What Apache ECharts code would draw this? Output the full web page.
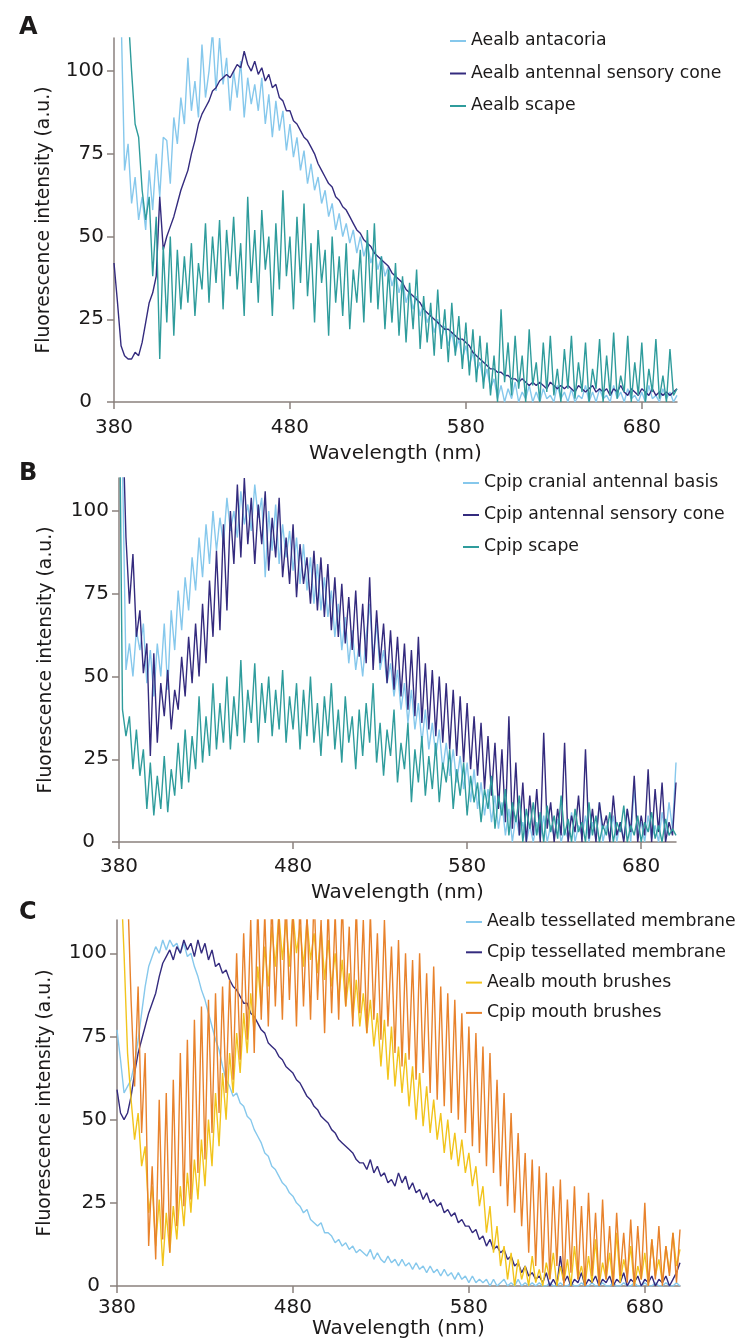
<!DOCTYPE html>
<html>
<head>
<meta charset="utf-8">
<script src="https://cdn.jsdelivr.net/npm/echarts@6/dist/echarts.min.js"></script>
<style>
html, body { margin: 0; padding: 0; background: #fff; }
#chart { width: 738px; height: 1344px; }
</style>
</head>
<body>
<div id="chart"></div>
<script>
// spectra are sampled every 2 nm from 380 to 700 nm
const wlStart = 380;
const wlStep = 2;
const xTickLabels = [380, 480, 580, 680];
const yTickLabels = [0, 25, 50, 75, 100];

// panel A
const aealbAntacoria = [
150,135,118,70,78,60,68,55,62,52,
70,58,75,62,80,79,66,86,78,92,
84,104,88,97,86,108,92,100,112,94,
110,96,104,88,100,92,103,86,98,90,
96,88,98,84,93,80,91,82,88,76,
84,74,80,70,76,66,72,64,68,60,
64,56,60,52,57,50,54,48,52,45,
50,44,48,42,46,40,44,38,41,35,
39,33,37,30,34,28,32,26,30,24,
27,21,25,19,23,17,21,15,19,13,
17,11,15,9,12,6,10,4,7,1,
5,0,4,1,6,0,3,1,5,0,
3,0,4,1,2,0,5,1,3,0,
4,0,2,1,5,0,3,0,4,1,
2,0,5,1,3,0,4,1,2,0,
3,0,5,1,2,0,4,1,3,0,
2];
const aealbCone = [
42,30,17,14,13,13,15,14,18,24,
30,33,38,62,46,50,53,56,60,64,
67,70,75,79,84,87,89,91,94,95,
97,98,99,98,100,102,101,106,102,100,
103,99,101,97,99,95,96,92,91,88,
88,85,84,82,80,79,77,75,72,70,
68,66,65,62,61,59,58,56,54,52,
51,49,48,47,45,44,43,42,41,39,
38,37,36,34,33,32,31,30,28,27,
26,25,24,23,22,22,21,20,19,19,
18,17,15,14,13,12,11,10,10,9,
9,8,8,7,7,6,7,6,5,6,
5,6,5,4,6,5,4,5,4,5,
4,3,5,4,3,4,5,3,4,3,
4,2,4,3,5,3,2,4,3,2,
4,3,2,4,2,3,2,3,2,3,
4];
const aealbScape = [
160,150,140,130,118,100,84,80,64,55,
62,38,56,13,47,24,50,20,46,28,
44,30,48,26,42,34,54,30,50,36,
55,28,52,38,56,34,48,26,62,36,
52,30,58,40,50,26,54,34,64,38,
50,28,56,36,60,32,48,24,52,36,
46,20,50,30,44,26,48,22,40,30,
46,24,52,30,54,28,44,22,40,24,
42,20,38,18,36,22,40,16,32,18,
30,14,34,16,28,12,30,14,26,10,
24,8,22,6,20,4,18,2,14,0,
28,6,18,2,20,4,14,0,22,5,
12,0,18,3,20,2,10,0,16,4,
20,1,12,3,18,0,10,4,19,0,
14,2,21,1,8,3,20,0,12,2,
18,0,10,3,19,1,8,0,16,2,
4];

// panel B
const cpipBasis = [
140,115,52,60,50,64,58,66,48,58,
44,60,50,66,46,70,58,76,64,80,
70,86,76,92,80,96,84,100,88,98,
90,104,94,100,92,106,96,102,94,108,
98,104,80,100,88,102,84,96,86,94,
82,92,78,90,76,86,72,84,70,80,
68,76,62,72,58,68,54,64,52,60,
50,62,72,56,66,52,58,48,54,44,
52,40,48,36,46,34,42,30,40,28,
36,26,34,22,30,20,28,18,26,16,
24,12,22,10,18,8,16,6,14,4,
12,2,10,0,8,2,6,0,5,0,
6,1,8,0,5,2,7,0,4,1,
9,0,5,2,8,0,6,1,12,0,
5,2,8,0,6,1,10,0,17,2,
6,0,8,1,5,0,9,2,12,4,
24];
const cpipCone = [
160,130,92,72,87,62,70,51,60,26,
57,30,48,38,52,34,46,40,56,44,
62,48,66,50,72,54,79,62,88,64,
96,70,100,84,108,86,110,90,104,84,
102,90,106,82,98,86,104,80,92,78,
96,74,90,78,86,72,88,70,86,68,
84,64,80,62,78,60,74,58,76,56,
72,54,80,52,70,54,66,48,64,46,
62,44,60,40,58,38,62,36,54,34,
52,32,50,30,48,28,46,26,44,24,
42,22,38,20,36,16,32,14,30,10,
28,6,38,4,24,2,18,0,14,2,
16,0,33,4,12,0,10,2,30,0,
8,3,14,0,28,1,10,0,12,4,
8,0,14,2,6,0,10,3,20,0,
8,2,22,0,16,3,18,0,6,2,
18];
const cpipScape = [
150,40,32,38,22,34,20,28,10,24,
8,20,10,26,9,22,14,30,16,34,
18,32,22,44,24,38,26,48,28,42,
30,50,28,44,32,55,30,46,36,54,
30,48,36,50,32,46,34,52,30,44,
34,48,28,46,32,50,30,42,26,44,
32,48,28,40,24,44,30,38,22,40,
26,42,30,48,24,36,20,34,26,40,
18,30,22,36,12,28,18,32,14,26,
16,30,12,24,18,28,10,22,14,24,
8,20,12,18,6,16,10,20,4,14,
8,16,2,12,6,14,0,10,4,12,
2,9,0,11,3,8,1,14,2,7,
0,10,3,6,0,12,2,8,0,5,
2,9,0,6,3,11,0,5,2,8,
0,6,3,9,1,5,0,7,2,4,
2];

// panel C
const aealbTessellated = [
77,68,58,60,62,67,74,82,90,96,
99,102,100,104,101,104,102,103,100,103,
99,100,96,93,89,86,82,78,74,71,
66,62,60,57,58,55,54,51,50,47,
45,43,40,39,36,35,33,31,30,28,
27,25,24,22,23,20,19,18,19,16,
16,15,13,14,12,13,11,12,10,11,
10,9,11,8,10,8,7,9,7,8,
6,8,6,7,5,7,5,6,4,6,
4,5,3,5,3,4,2,4,2,3,
1,3,1,2,1,2,0,2,0,1,
2,0,1,0,2,0,1,0,1,0,
1,0,0,1,0,0,1,0,0,1,
0,0,1,0,0,1,0,0,1,0,
0,1,0,0,1,0,0,1,0,0,
1,0,0,1,0,0,1,0,0,1,
0];
const cpipTessellated = [
59,52,50,52,57,64,70,74,78,82,
85,88,93,97,99,101,98,102,100,104,
101,103,99,104,100,103,98,101,96,97,
94,95,92,90,89,87,85,85,82,81,
79,77,76,73,72,71,69,68,66,65,
64,62,61,59,57,56,54,53,51,50,
49,47,46,44,43,42,41,40,38,37,
37,35,38,34,36,33,34,31,32,30,
34,31,33,29,31,28,29,26,28,25,
26,24,25,22,23,21,22,19,20,18,
18,16,17,14,15,12,14,11,12,10,
11,8,9,6,7,4,6,3,4,2,
3,1,4,0,2,0,9,1,3,0,
2,1,4,0,2,1,3,0,2,1,
3,0,2,1,4,0,2,1,3,0,
2,1,3,0,2,1,3,0,2,4,
7];
const aealbBrushes = [
140,125,100,70,56,44,52,36,42,22,
30,12,26,6,22,10,24,14,30,18,
34,22,38,26,44,30,50,36,58,42,
64,50,70,58,76,64,82,70,88,76,
96,84,102,90,108,96,112,98,110,96,
112,100,108,96,110,98,106,94,108,92,
104,90,100,86,98,84,94,80,92,78,
88,76,86,72,82,66,80,62,78,60,
72,58,70,54,66,50,64,48,60,46,
56,44,52,40,50,38,46,36,44,34,
40,30,36,24,30,16,24,10,18,6,
12,2,10,0,8,2,6,0,9,1,
5,0,7,2,10,0,6,1,8,0,
12,2,6,0,9,1,14,0,7,2,
10,0,16,1,8,3,12,0,6,2,
10,0,14,3,8,1,12,4,16,6,
11];
const cpipBrushes = [
150,160,130,120,86,60,90,46,70,12,
36,8,56,14,58,10,62,18,70,24,
74,26,80,34,84,38,86,46,88,52,
90,58,92,62,100,68,106,74,110,70,
114,80,112,78,116,84,112,80,118,86,
114,78,116,84,112,80,118,86,110,76,
114,82,112,80,116,84,108,78,114,82,
110,76,112,80,106,74,110,78,102,70,
104,66,100,68,98,62,100,64,94,58,
96,56,90,54,88,52,86,50,82,46,
78,42,76,40,72,36,70,34,62,30,
58,24,52,22,46,18,40,10,38,6,
36,4,34,2,30,6,32,0,26,4,
30,2,24,0,28,3,22,0,26,2,
18,0,22,3,16,1,20,0,18,2,
25,0,14,2,18,0,12,3,16,1,
17];

const lightBlue = '#86c8ec';
const navy = '#342b7e';
const teal = '#2f9c9c';
const yellow = '#f2c41c';
const orange = '#e8822c';

const font = 'DejaVu Sans';
const textColor = '#1c1a1a';
const axisColor = '#8a817e';

const panels = [
    {
        letter: 'A', letterTop: 11,
        grid: { left: 114, top: 38, width: 563, height: 364 },
        xLabelMargin: 16, xNameGap: 42, yNameGap: 60, zeroPad: 12,
        legend: { left: 450, top: 31, itemGap: 12.5 },
        lines: [
            { name: 'Aealb antacoria', data: aealbAntacoria, color: lightBlue },
            { name: 'Aealb antennal sensory cone', data: aealbCone, color: navy },
            { name: 'Aealb scape', data: aealbScape, color: teal }
        ]
    },
    {
        letter: 'B', letterTop: 457,
        grid: { left: 119, top: 478, width: 557, height: 364 },
        xLabelMargin: 15, xNameGap: 41, yNameGap: 63, zeroPad: 14,
        legend: { left: 463, top: 473, itemGap: 12 },
        lines: [
            { name: 'Cpip cranial antennal basis', data: cpipBasis, color: lightBlue },
            { name: 'Cpip antennal sensory cone', data: cpipCone, color: navy },
            { name: 'Cpip scape', data: cpipScape, color: teal }
        ]
    },
    {
        letter: 'C', letterTop: 896,
        grid: { left: 117, top: 920, width: 563, height: 366 },
        xLabelMargin: 12, xNameGap: 30, yNameGap: 62, zeroPad: 7,
        legend: { left: 466, top: 912, itemGap: 10.3 },
        lines: [
            { name: 'Aealb tessellated membrane', data: aealbTessellated, color: lightBlue },
            { name: 'Cpip tessellated membrane', data: cpipTessellated, color: navy },
            { name: 'Aealb mouth brushes', data: aealbBrushes, color: yellow },
            { name: 'Cpip mouth brushes', data: cpipBrushes, color: orange }
        ]
    }
];

function toPairs(values) {
    return values.map((v, i) => [wlStart + i * wlStep, v]);
}

const option = {
    backgroundColor: '#fff',
    animation: false,
    title: [],
    grid: [],
    xAxis: [],
    yAxis: [],
    legend: [],
    series: []
};

panels.forEach((p, idx) => {
    option.title.push({
        text: p.letter, left: 14, top: p.letterTop,
        textStyle: { fontFamily: font, fontSize: 24, fontWeight: 'bold', color: textColor }
    });
    option.grid.push(p.grid);
    option.xAxis.push({
        type: 'value', gridIndex: idx, min: 380, max: 700,
        name: 'Wavelength (nm)', nameLocation: 'middle', nameGap: p.xNameGap,
        nameTextStyle: { fontFamily: font, fontSize: 20, color: textColor },
        axisLine: { show: true, lineStyle: { color: axisColor, width: 1.5 } },
        axisTick: { show: true, customValues: xTickLabels, length: 7, lineStyle: { color: axisColor, width: 1.5 } },
        axisLabel: { customValues: xTickLabels, margin: p.xLabelMargin, fontFamily: font, fontSize: 20, color: textColor },
        splitLine: { show: false }
    });
    option.yAxis.push({
        type: 'value', gridIndex: idx, min: 0, max: 110,
        name: 'Fluorescence intensity (a.u.)', nameLocation: 'middle', nameGap: p.yNameGap,
        nameTextStyle: { fontFamily: font, fontSize: 18.8, color: textColor },
        axisLine: { show: true, lineStyle: { color: axisColor, width: 1.5 } },
        axisTick: { show: true, customValues: yTickLabels, length: 7, lineStyle: { color: axisColor, width: 1.5 } },
        axisLabel: {
            customValues: yTickLabels, margin: 10, fontFamily: font, fontSize: 20, color: textColor,
            formatter: function (v) { return v === 0 ? '{z|0}' : String(v); },
            rich: { z: { fontFamily: font, fontSize: 20, color: textColor, padding: [0, p.zeroPad, 0, 0] } }
        },
        splitLine: { show: false }
    });
    option.legend.push({
        data: p.lines.map(l => l.name),
        orient: 'vertical', left: p.legend.left, top: p.legend.top, itemGap: p.legend.itemGap,
        padding: 0, icon: 'rect', itemWidth: 16, itemHeight: 2, selectedMode: false,
        textStyle: { fontFamily: font, fontSize: 17.3, lineHeight: 20, color: textColor }
    });
    p.lines.forEach(l => {
        option.series.push({
            name: l.name, type: 'line', xAxisIndex: idx, yAxisIndex: idx,
            data: toPairs(l.data), showSymbol: false, symbol: 'none', clip: true,
            color: l.color, lineStyle: { color: l.color, width: 1.4 },
            emphasis: { disabled: true }
        });
    });
});

const chart = echarts.init(document.getElementById('chart'), null, { renderer: 'canvas' });
chart.setOption(option);
</script>
</body>
</html>
